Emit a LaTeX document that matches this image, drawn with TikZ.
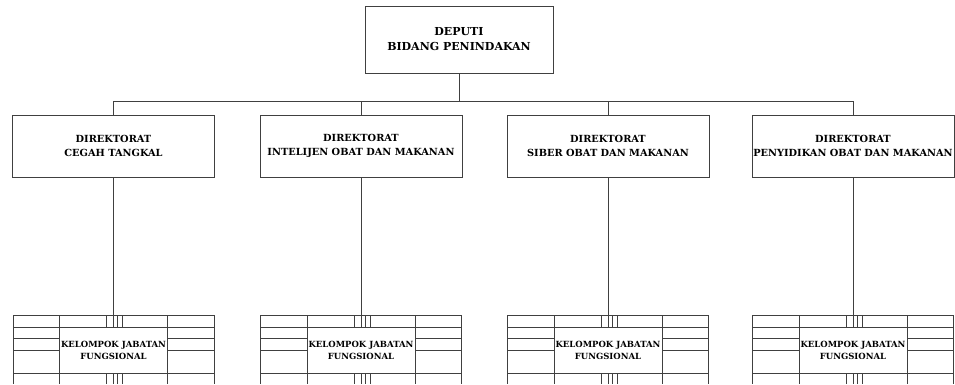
\documentclass[tikz,border=0pt]{standalone}
\usepackage{fontspec}
\setmainfont{DejaVu Serif}
\tikzset{
  unitbox/.style={draw=black!75, line width=0.8pt, align=center, inner sep=0pt,
    font=\bfseries\fontsize{9.8}{14.5}\selectfont},
  dirbox/.style={unitbox, minimum width=202pt, minimum height=62pt},
  kjfbox/.style={unitbox, minimum width=108pt, minimum height=46pt,
    font=\bfseries\fontsize{8.5}{12}\selectfont},
  tabline/.style={draw=black!75, line width=0.8pt},
  link/.style={draw=black!75, line width=0.8pt}
}
\begin{document}
\begin{tikzpicture}[x=1pt,y=-1pt]
\useasboundingbox (0,0) rectangle (955,384);

% deputi
\node[unitbox, minimum width=188pt, minimum height=67pt, font=\bfseries\fontsize{11}{15}\selectfont] (deputi) at (459,39.5) {DEPUTI\\BIDANG PENINDAKAN};
\coordinate (bus) at (0,101);

% direktorat
\node[dirbox] (dir1) at (113.5,146) {DIREKTORAT\\CEGAH TANGKAL};
\node[dirbox] (dir2) at (361,146) {DIREKTORAT\\INTELIJEN OBAT DAN MAKANAN};
\node[dirbox] (dir3) at (608,146) {DIREKTORAT\\SIBER OBAT DAN MAKANAN};
\node[dirbox] (dir4) at (853,146) {DIREKTORAT\\PENYIDIKAN OBAT DAN MAKANAN};

% kelompok jabatan fungsional
\foreach \c/\i in {113.5/1, 361/2, 608/3, 853/4} {
  \node[kjfbox] (kjf\i) at (\c,350) {KELOMPOK JABATAN\\FUNGSIONAL};
  % table round it
  \draw[tabline] (\c-100.5,315) -- (\c+100.5,315);
  \draw[tabline] (\c-100.5,327) -- (\c+100.5,327);
  \draw[tabline] (\c-100.5,373) -- (\c+100.5,373);
  \draw[tabline] (\c-100.5,338) -- (\c-54,338) (\c+54,338) -- (\c+100.5,338);
  \draw[tabline] (\c-100.5,350) -- (\c-54,350) (\c+54,350) -- (\c+100.5,350);
  \draw[tabline] (\c-100.5,315) -- (\c-100.5,384) (\c+100.5,315) -- (\c+100.5,384);
  \draw[tabline] (\c-54,315) -- (\c-54,384) (\c+54,315) -- (\c+54,384);
  % short lines
  \foreach \d in {-7,4,9}
    \draw[tabline] (\c+\d,315) -- (\c+\d,327);
  \foreach \d in {-7,0,4,9}
    \draw[tabline] (\c+\d,373) -- (\c+\d,384);
}

% connectors
\draw[link] (deputi.south) -- (deputi.south |- bus);
\draw[link] (dir1.north |- bus) -- (dir4.north |- bus);
\foreach \i in {1,...,4} {
  \draw[link] (dir\i.north |- bus) -- (dir\i.north);
  \draw[link] (dir\i.south) -- (kjf\i.north);
}
\end{tikzpicture}
\end{document}
